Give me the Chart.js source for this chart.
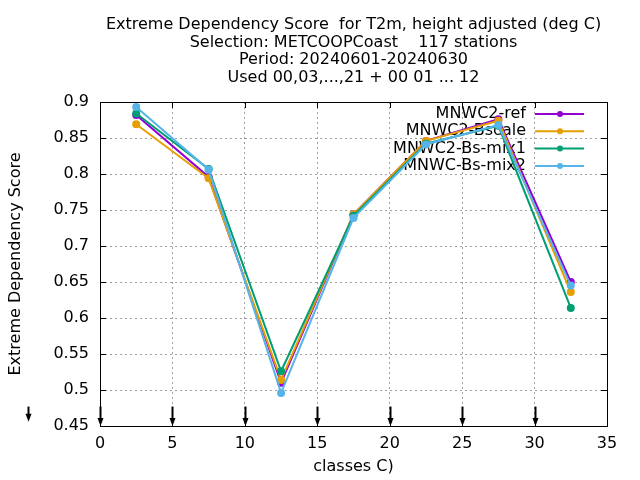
<!DOCTYPE html>
<html>
<head>
<meta charset="utf-8">
<script src="https://cdn.jsdelivr.net/npm/chart.js@4"></script>
<style>
  html, body { margin: 0; padding: 0; background: #fff; }
  #wrap { width: 640px; height: 480px; }
</style>
</head>
<body>
<div id="wrap"><canvas id="eds" width="640" height="480"></canvas></div>
<script>
/* ── Data ──────────────────────────────────────────────────────────── */
const classX      = [2.5, 7.5, 12.5, 17.5, 22.5, 27.5, 32.5];
const edsRef      = [0.882, 0.796, 0.510, 0.744, 0.846, 0.876, 0.650];
const edsBscale   = [0.869, 0.794, 0.514, 0.744, 0.846, 0.874, 0.636];
const edsMix1     = [0.884, 0.807, 0.526, 0.742, 0.842, 0.867, 0.614];
const edsMix2     = [0.893, 0.806, 0.496, 0.739, 0.841, 0.868, 0.645];
const seriesNames = ['MNWC2-ref', 'MNWC2-Bscale', 'MNWC2-Bs-mix1', 'MNWC-Bs-mix2'];
const titleLines  = [
    'Extreme Dependency Score  for T2m, height adjusted (deg C)',
    'Selection: METCOOPCoast    117 stations',
    'Period: 20240601-20240630',
    'Used 00,03,...,21 + 00 01 ... 12',
];
const xTicks      = [0, 5, 10, 15, 20, 25, 30, 35];
const yTicks      = [0.45, 0.5, 0.55, 0.6, 0.65, 0.7, 0.75, 0.8, 0.85, 0.9];
// little down arrows near the x axis
const arrowX      = [-5, 0, 5, 10, 15, 20, 25, 30];
const arrowTop    = [0.477, 0.477, 0.477, 0.477, 0.477, 0.477, 0.477, 0.477];
const arrowBottom = [0.456, 0.45, 0.45, 0.45, 0.45, 0.45, 0.45, 0.45];

const COLORS = ['#9400d3', '#e69f00', '#009e73', '#56b4e9'];
const FONT   = "'DejaVu Sans', sans-serif";
const FSIZE  = 16;

/* ── Plugins ───────────────────────────────────────────────────────── */
const titlePlugin = {
    id: 'gpTitle',
    afterDraw(chart) {
        const { ctx, chartArea: ca } = chart;
        ctx.save();
        ctx.fillStyle = '#000';
        ctx.font = `${FSIZE}px ${FONT}`;
        ctx.textAlign = 'center';
        ctx.textBaseline = 'middle';
        const cx = (ca.left + ca.right) / 2;
        titleLines.forEach((t, i) => ctx.fillText(t, cx, 25 + i * 17.6));
        ctx.restore();
    },
};

const keyPlugin = {
    id: 'gpKey',
    beforeDatasetsDraw(chart) {
        const { ctx } = chart;
        ctx.save();
        ctx.font = `${FSIZE}px ${FONT}`;
        ctx.textAlign = 'right';
        ctx.textBaseline = 'middle';
        seriesNames.forEach((name, i) => {
            const y = 114 + i * 17.3;
            ctx.fillStyle = '#000';
            ctx.fillText(name, 526, y);
            ctx.strokeStyle = COLORS[i];
            ctx.lineWidth = 2;
            ctx.beginPath();
            ctx.moveTo(535, y);
            ctx.lineTo(584, y);
            ctx.stroke();
            ctx.fillStyle = COLORS[i];
            ctx.beginPath();
            ctx.arc(560, y, 3, 0, Math.PI * 2);
            ctx.fill();
        });
        ctx.restore();
    },
};

const framePlugin = {
    id: 'gpFrame',
    afterDatasetsDraw(chart) {
        const { ctx, chartArea: ca, scales: { x, y } } = chart;
        ctx.save();
        ctx.strokeStyle = '#000';
        ctx.lineWidth = 1;
        ctx.strokeRect(ca.left + 0.5, ca.top + 0.5, ca.right - ca.left, ca.bottom - ca.top);
        const tl = 6;
        ctx.beginPath();
        xTicks.forEach(v => {
            const px = Math.round(x.getPixelForValue(v)) + 0.5;
            ctx.moveTo(px, ca.bottom); ctx.lineTo(px, ca.bottom - tl);
            ctx.moveTo(px, ca.top);    ctx.lineTo(px, ca.top + tl);
        });
        yTicks.forEach(v => {
            const py = Math.round(y.getPixelForValue(v)) + 0.5;
            ctx.moveTo(ca.left, py);  ctx.lineTo(ca.left + tl, py);
            ctx.moveTo(ca.right, py); ctx.lineTo(ca.right - tl, py);
        });
        ctx.stroke();

        // arrows
        ctx.fillStyle = '#000';
        ctx.lineWidth = 2;
        arrowX.forEach((v, i) => {
            const px = Math.round(x.getPixelForValue(v)) + 0.5;
            const y0 = y.getPixelForValue(arrowTop[i]);
            const y1 = y.getPixelForValue(arrowBottom[i]);
            ctx.beginPath();
            ctx.moveTo(px, y0); ctx.lineTo(px, y1 - 4);
            ctx.stroke();
            ctx.beginPath();
            ctx.moveTo(px - 3, y1 - 8);
            ctx.lineTo(px + 3, y1 - 8);
            ctx.lineTo(px, y1);
            ctx.closePath();
            ctx.fill();
        });
        ctx.restore();
    },
};

/* ── Chart ─────────────────────────────────────────────────────────── */
const seriesData = [edsRef, edsBscale, edsMix1, edsMix2];

new Chart(document.getElementById('eds'), {
    type: 'line',
    data: {
        datasets: seriesData.map((vals, i) => ({
            label: seriesNames[i],
            data: classX.map((cx, j) => ({ x: cx, y: vals[j] })),
            borderColor: COLORS[i],
            backgroundColor: COLORS[i],
            borderWidth: 2,
            pointRadius: 4,
            pointHoverRadius: 4,
            pointBorderWidth: 0,
            tension: 0,
            order: seriesData.length - i,
        })),
    },
    options: {
        responsive: false,
        devicePixelRatio: 1,
        animation: false,
        layout: { padding: { top: 102, right: 33, left: 0, bottom: 0 } },
        plugins: {
            legend: { display: false },
            title: { display: false },
            tooltip: { enabled: false },
        },
        scales: {
            x: {
                type: 'linear',
                min: 0, max: 35,
                afterFit: s => { s.height = 54; },
                afterBuildTicks: s => { s.ticks = xTicks.map(v => ({ value: v })); },
                grid: { color: '#a0a0a0', drawTicks: false, tickLength: 0 },
                border: { display: false, dash: [2, 3] },
                ticks: { font: { family: FONT, size: FSIZE }, color: '#000', padding: 8, maxRotation: 0 },
                title: {
                    display: true, text: 'classes C)', color: '#000',
                    font: { family: FONT, size: FSIZE }, padding: { top: 0, bottom: 4 },
                },
            },
            y: {
                min: 0.45, max: 0.9,
                afterFit: s => { s.width = 100; },
                afterBuildTicks: s => { s.ticks = yTicks.map(v => ({ value: v })); },
                grid: { color: '#a0a0a0', drawTicks: false, tickLength: 0 },
                border: { display: false, dash: [2, 3] },
                ticks: {
                    font: { family: FONT, size: FSIZE }, color: '#000', padding: 11,
                    callback: v => String(+v.toFixed(2)),
                },
                title: {
                    display: true, text: 'Extreme Dependency Score', color: '#000',
                    font: { family: FONT, size: FSIZE }, padding: { top: 6, bottom: 6 },
                },
            },
        },
    },
    plugins: [titlePlugin, keyPlugin, framePlugin],
});
</script>
</body>
</html>
